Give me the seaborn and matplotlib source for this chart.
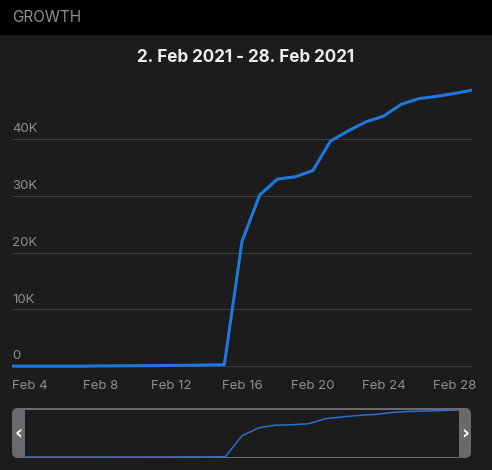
import pandas as pd
import matplotlib.pyplot as plt
import seaborn as sns
from matplotlib.patches import FancyBboxPatch, Rectangle

# Dados (um ponto por dia)
dias = pd.date_range('2021-02-03', '2021-03-01', freq='D')
valores = [0, 0, 0, 0, 0, 40, 60, 80, 100, 130, 160, 200, 250,
           22000, 30200, 33000, 33400, 34500, 39700, 41500, 43100,
           44100, 46200, 47200, 47600, 48100, 48700]
ticks_y = [0, 10000, 20000, 30000, 40000]
labels_y = ['0', '10K', '20K', '30K', '40K']
ticks_x = pd.date_range('2021-02-04', '2021-02-28', freq='4D')
labels_x = ['Feb 4', 'Feb 8', 'Feb 12', 'Feb 16', 'Feb 20', 'Feb 24', 'Feb 28']
titulo = '2. Feb 2021 - 28. Feb 2021'

df = pd.DataFrame({'dia': dias, 'valor': valores})

fundo = '#1c1c1c'
azul = '#1f78e0'
cinza_txt = '#8e8e93'

sns.set_theme(style='dark')
plt.rcParams['font.family'] = ['Inter', 'DejaVu Sans']

W, H = 492, 470
fig = plt.figure(figsize=(W / 100, H / 100), dpi=100, facecolor=fundo)

# Camada de decoração em pixels
deco = fig.add_axes([0, 0, 1, 1], zorder=0)
deco.set_xlim(0, W)
deco.set_ylim(H, 0)
deco.axis('off')
deco.add_patch(Rectangle((0, 0), W, 34, color='black'))
deco.text(12, 17.5, 'GROWTH', color=cinza_txt, fontsize=11, va='center', ha='left')
deco.text(W / 2, 58, titulo, color='#ececec', fontsize=12.3, fontweight='bold',
          va='center', ha='center')

# Navegador
deco.add_patch(FancyBboxPatch((12, 408), 459, 50, boxstyle='round,pad=0,rounding_size=6',
                              facecolor='#6a6a6e', edgecolor='none'))
deco.text(18.5, 433, '‹', color='white', fontsize=14, fontweight='bold',
          ha='center', va='center', family=['DejaVu Sans'])
deco.text(465, 433, '›', color='white', fontsize=14, fontweight='bold',
          ha='center', va='center', family=['DejaVu Sans'])

# Gráfico principal
ax = fig.add_axes([12 / W, (H - 369) / H, 460 / W, 284 / H], zorder=1)
ax.set_facecolor('none')
sns.lineplot(data=df, x='dia', y='valor', ax=ax, color=azul, linewidth=2.2)
ax.set_xlim(dias[0], dias[-1])
ax.set_ylim(-500, 49600)
ax.set_yticks(ticks_y)
ax.set_yticklabels([])
ax.grid(axis='y', color='#3c3c3e', linewidth=0.8)
ax.grid(axis='x', visible=False)
ax.set_xticks(ticks_x)
ax.set_xticklabels(labels_x)
ax.tick_params(axis='x', length=0, pad=8, labelsize=9.5, labelcolor=cinza_txt)
ax.tick_params(axis='y', length=0)
ax.set_xlabel('')
ax.set_ylabel('')
for s in ax.spines.values():
    s.set_visible(False)
for v, lab in zip(ticks_y, labels_y):
    ax.annotate(lab, xy=(0, v), xycoords=('axes fraction', 'data'),
                xytext=(0, 5), textcoords='offset points',
                color=cinza_txt, fontsize=9.5, ha='left', va='baseline')

# Mini gráfico do navegador
mini = fig.add_axes([25 / W, (H - 457) / H, 434 / W, 47 / H], zorder=2)
mini.set_facecolor(fundo)
sns.lineplot(data=df, x='dia', y='valor', ax=mini, color='#2a6fc9', linewidth=1.1)
mini.set_xlim(dias[0], dias[-1])
mini.set_ylim(0, max(valores))
mini.set_xticks([])
mini.set_yticks([])
mini.set_xlabel('')
mini.set_ylabel('')
for s in mini.spines.values():
    s.set_visible(False)

fig.savefig('out.png', dpi=100, facecolor=fundo)
